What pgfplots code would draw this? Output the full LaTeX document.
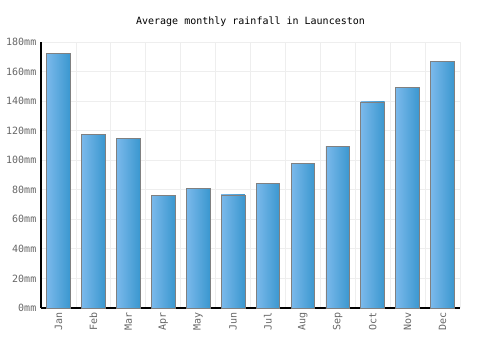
\documentclass[border=0pt]{standalone}
\usepackage{pgfplots}
\pgfplotsset{compat=1.18}
\usepackage{fontspec}
\setmainfont{DejaVu Sans Mono}
\setmonofont{DejaVu Sans Mono}
\definecolor{barL}{HTML}{7BB9EB}
\definecolor{barR}{HTML}{3A97CF}
\definecolor{gridc}{HTML}{EEEEEE}
\definecolor{labc}{HTML}{666666}
\pgfplotsset{rainbar/.style={ybar, bar shift=0pt, bar width=0.68, draw=gray, line width=0.6pt, left color=barL, right color=barR}}
\begin{document}
\begin{tikzpicture}
\useasboundingbox (-30.75pt,-31.5pt) rectangle (344.25pt,231pt);
\begin{axis}[
  scale only axis,
  width=314.25pt, height=199.5pt,
  at={(0,0)}, anchor=south west,
  xmin=-0.5, xmax=11.5, ymin=0, ymax=180,
  axis lines*=left,
  axis line style={black, line width=0.9pt},
  xtick={0,...,11},
  xticklabels={Jan,Feb,Mar,Apr,May,Jun,Jul,Aug,Sep,Oct,Nov,Dec},
  x tick label style={rotate=90, anchor=east, font=\fontsize{7.5}{9}\selectfont, text=labc},
  minor xtick={-0.5,0.5,...,11.5},
  xminorgrids, xmajorgrids=false,
  ytick={0,20,...,180},
  yticklabel={\pgfmathprintnumber{\tick}mm},
  y tick label style={font=\fontsize{7.5}{9}\selectfont, text=labc},
  /pgf/number format/assume math mode=true,
  ymajorgrids,
  grid style={gridc, line width=0.6pt},
  minor grid style={gridc, line width=0.6pt},
  major tick length=0pt, minor tick length=0pt,
  title={Average monthly rainfall in Launceston},
  title style={font=\fontsize{7.5}{9}\selectfont, yshift=2pt},
  clip=false,
]
\addplot[rainbar] coordinates {(0,172)};
\addplot[rainbar] coordinates {(1,117.7)};
\addplot[rainbar] coordinates {(2,115)};
\addplot[rainbar] coordinates {(3,76)};
\addplot[rainbar] coordinates {(4,81)};
\addplot[rainbar] coordinates {(5,76.5)};
\addplot[rainbar] coordinates {(6,84)};
\addplot[rainbar] coordinates {(7,98)};
\addplot[rainbar] coordinates {(8,109.6)};
\addplot[rainbar] coordinates {(9,139.4)};
\addplot[rainbar] coordinates {(10,149.5)};
\addplot[rainbar] coordinates {(11,167)};
\end{axis}
\end{tikzpicture}
\end{document}
